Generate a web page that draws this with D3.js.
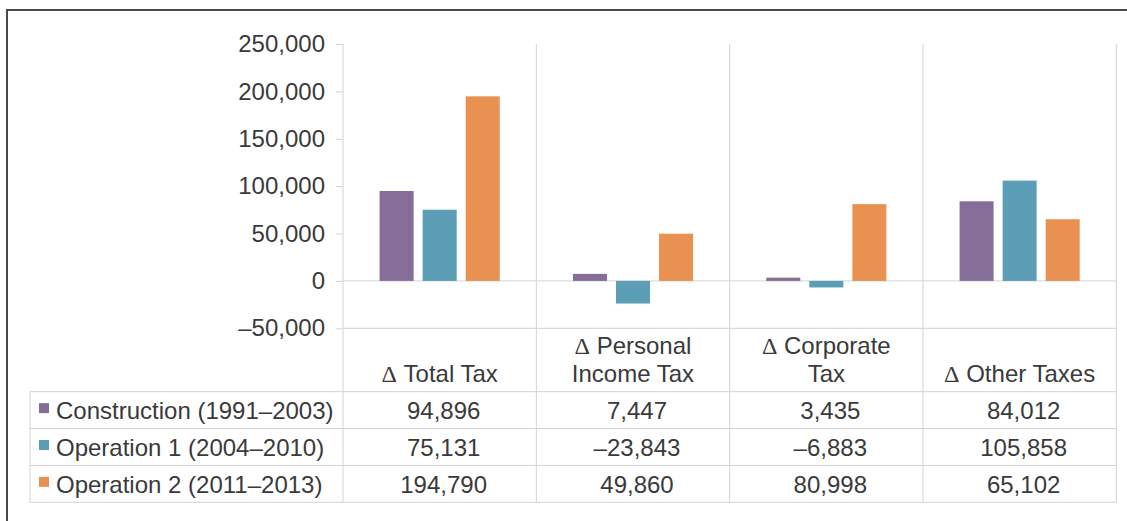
<!DOCTYPE html>
<html>
<head>
<meta charset="utf-8">
<script src="https://cdn.jsdelivr.net/npm/d3@7"></script>
<style>
  body { margin: 0; background: #fff; }
  text { font-family: "Liberation Sans", Arial, sans-serif; fill: #3a3a3a; }
</style>
</head>
<body>
<div id="chart"></div>
<script>
// categories on the x axis ("\n" = line break in the table header)
var categories = ["Δ Total Tax", "Δ Personal\nIncome Tax", "Δ Corporate\nTax", "Δ Other Taxes"];

// one array per series, same order as categories
var seriesNames  = ["Construction (1991–2003)", "Operation 1 (2004–2010)", "Operation 2 (2011–2013)"];
var construction = [94896, 7447, 3435, 84012];
var operation1   = [75131, -23843, -6883, 105858];
var operation2   = [194790, 49860, 80998, 65102];

var yTicks = [-50000, 0, 50000, 100000, 150000, 200000, 250000];

var chartWidth  = 1127,
    chartHeight = 521,
    fontSize    = 24;

var series = [construction, operation1, operation2].map(function(values, i) {
  return {name: seriesNames[i], values: values};
});

var color = d3.scaleOrdinal()
    .domain(seriesNames)
    .range(["#866e98", "#5b9eb5", "#e89150"]);

// plot box and table box
var plot  = {left: 343, right: 1116.3, top: 44, bottom: 328.3},
    table = {left: 30, headTop: 328.3, headBottom: 391.7, bottom: 502.3};

var x0 = d3.scaleBand()
    .domain(categories)
    .range([plot.left, plot.right]);

var x1 = d3.scaleBand()
    .domain(seriesNames)
    .range([0, x0.bandwidth()])
    .paddingInner(0.21)
    .paddingOuter(0.85);

var y = d3.scaleLinear()
    .domain([-50000, 250000])
    .range([plot.bottom, plot.top]);

var row = d3.scaleBand()
    .domain(seriesNames)
    .range([table.headBottom, table.bottom]);

//en dash for negatives, like the source
function fmt(d) {
  return d < 0 ? "–" + d3.format(",")(-d) : d3.format(",")(d);
}

var svg = d3.select("#chart").append("svg")
    .attr("width", chartWidth)
    .attr("height", chartHeight);

// outer frame, runs off the right and bottom edges
svg.append("rect")
    .attr("x", 7).attr("y", 10)
    .attr("width", 1140).attr("height", 540)
    .attr("fill", "none")
    .attr("stroke", "#4a4a4a")
    .attr("stroke-width", 2);

var grid = "#d3d3d3";

// y axis: ticks + labels only, domain removed
svg.append("g")
    .attr("class", "axis axis--y")
    .attr("transform", "translate(" + plot.left + ",0)")
    .call(d3.axisLeft(y).tickValues(yTicks).tickFormat(fmt).tickSize(7).tickPadding(11))
    .call(function(g) {
      g.select(".domain").remove();
      g.selectAll(".tick line").attr("stroke", grid);
      g.selectAll(".tick text").attr("font-size", fontSize).attr("fill", "#3a3a3a")
          .attr("font-family", "Liberation Sans, Arial, sans-serif");
    });

// horizontal lines at 0 and -50,000
svg.append("g").selectAll("line")
    .data([0, -50000])
    .enter().append("line")
      .attr("x1", plot.left).attr("x2", plot.right)
      .attr("y1", function(d) { return y(d); })
      .attr("y2", function(d) { return y(d); })
      .attr("stroke", grid);

// category separators, carried down through the table
svg.append("g").selectAll("line")
    .data(categories.concat(["end"]))
    .enter().append("line")
      .attr("x1", function(d, i) { return i < categories.length ? x0(d) : plot.right; })
      .attr("x2", function(d, i) { return i < categories.length ? x0(d) : plot.right; })
      .attr("y1", plot.top).attr("y2", table.bottom)
      .attr("stroke", grid);

// table row lines and left edge
svg.append("g").selectAll("line")
    .data(seriesNames.map(function(s) { return row(s); }).concat([table.bottom]))
    .enter().append("line")
      .attr("x1", table.left).attr("x2", plot.right)
      .attr("y1", function(d) { return d; })
      .attr("y2", function(d) { return d; })
      .attr("stroke", grid);

svg.append("line")
    .attr("x1", table.left).attr("x2", table.left)
    .attr("y1", table.headBottom).attr("y2", table.bottom)
    .attr("stroke", grid);

// bars
var groups = svg.append("g").selectAll("g")
    .data(series)
    .enter().append("g")
      .attr("fill", function(d) { return color(d.name); });

groups.selectAll("rect")
    .data(function(d) { return d.values.map(function(v, i) { return {name: d.name, cat: categories[i], value: v}; }); })
    .enter().append("rect")
      .attr("x", function(d) { return x0(d.cat) + x1(d.name); })
      .attr("width", x1.bandwidth())
      .attr("y", function(d) { return y(Math.max(0, d.value)); })
      .attr("height", function(d) { return Math.abs(y(d.value) - y(0)); });

// header labels, bottom aligned in the header row
var head = svg.append("g").selectAll("text")
    .data(categories)
    .enter().append("text")
      .attr("text-anchor", "middle")
      .attr("font-size", fontSize)
      .attr("x", function(d) { return x0(d) + x0.bandwidth() / 2; })
      .attr("y", table.headBottom - 10);

head.each(function(d) {
  var lines = d.split("\n"),
      el = d3.select(this);
  lines.forEach(function(line, i) {
    var t = el.append("tspan")
        .attr("x", x0(d) + x0.bandwidth() / 2)
        .attr("dy", i === 0 ? -(lines.length - 1) * 28 : 28);
    if (line.charAt(0) === "Δ") {
      t.append("tspan").attr("font-family", "Liberation Serif, serif").text("Δ");
      t.append("tspan").text(line.slice(1));
    } else {
      t.text(line);
    }
  });
});

// table body: legend key + values
var rows = svg.append("g").selectAll("g")
    .data(series)
    .enter().append("g")
      .attr("transform", function(d) { return "translate(0," + (row(d.name) + row.bandwidth() / 2) + ")"; });

rows.append("rect")
    .attr("x", 39).attr("y", -7)
    .attr("width", 10).attr("height", 10)
    .attr("fill", function(d) { return color(d.name); });

rows.append("text")
    .attr("x", 56).attr("y", 9)
    .attr("font-size", fontSize)
    .text(function(d) { return d.name; });

rows.selectAll("text.val")
    .data(function(d) { return d.values.map(function(v, i) { return {cat: categories[i], value: v}; }); })
    .enter().append("text")
      .attr("class", "val")
      .attr("text-anchor", "middle")
      .attr("font-size", fontSize)
      .attr("x", function(d) { return x0(d.cat) + x0.bandwidth() / 2 + 4; })
      .attr("y", 9)
      .text(function(d) { return fmt(d.value); });
</script>
</body>
</html>
